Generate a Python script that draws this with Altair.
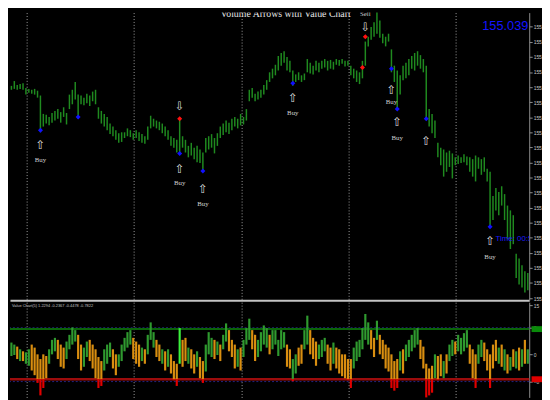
import altair as alt
import pandas as pd

# ---------------- data ----------------
price_high = [155.704, 155.720, 155.707, 155.710, 155.713, 155.697, 155.694, 155.691, 155.694, 155.688,
              155.672, 155.611, 155.608, 155.601, 155.614, 155.621, 155.627, 155.617, 155.633, 155.614,
              155.675, 155.691, 155.717, 155.675, 155.672, 155.665, 155.678, 155.672, 155.685, 155.691,
              155.633, 155.621, 155.611, 155.601, 155.579, 155.569, 155.557, 155.547, 155.550, 155.550,
              155.563, 155.557, 155.547, 155.557, 155.550, 155.544, 155.537, 155.569, 155.605, 155.595,
              155.589, 155.585, 155.579, 155.569, 155.557, 155.537, 155.531, 155.525, 155.601, 155.537,
              155.525, 155.505, 155.515, 155.499, 155.505, 155.493, 155.483, 155.531, 155.537, 155.544,
              155.531, 155.547, 155.569, 155.579, 155.589, 155.582, 155.595, 155.601, 155.595, 155.611,
              155.601, 155.627, 155.691, 155.697, 155.678, 155.685, 155.691, 155.707, 155.723, 155.749,
              155.761, 155.774, 155.803, 155.813, 155.819, 155.800, 155.787, 155.755, 155.742, 155.749,
              155.739, 155.745, 155.793, 155.781, 155.771, 155.787, 155.781, 155.787, 155.793, 155.787,
              155.790, 155.784, 155.793, 155.790, 155.793, 155.787, 155.787, 155.771, 155.761, 155.755,
              155.749, 155.787, 155.851, 155.867, 155.899, 155.915, 155.947, 155.921, 155.877, 155.867,
              155.877, 155.825, 155.771, 155.755, 155.739, 155.771, 155.781, 155.793, 155.803, 155.813,
              155.819, 155.806, 155.793, 155.771, 155.627, 155.611, 155.589, 155.515, 155.499, 155.493,
              155.483, 155.489, 155.480, 155.467, 155.473, 155.467, 155.477, 155.470, 155.467, 155.461,
              155.473, 155.467, 155.461, 155.467, 155.429, 155.419, 155.339, 155.365, 155.352, 155.371,
              155.345, 155.307, 155.291, 155.275, 155.147, 155.131, 155.109, 155.089, 155.083]
price_low = [155.691, 155.694, 155.691, 155.694, 155.691, 155.675, 155.681, 155.678, 155.675, 155.665,
             155.550, 155.569, 155.579, 155.573, 155.582, 155.589, 155.595, 155.582, 155.601, 155.576,
             155.627, 155.643, 155.659, 155.595, 155.643, 155.640, 155.646, 155.637, 155.653, 155.643,
             155.595, 155.579, 155.569, 155.557, 155.544, 155.537, 155.525, 155.515, 155.518, 155.531,
             155.537, 155.534, 155.525, 155.531, 155.521, 155.515, 155.512, 155.525, 155.563, 155.569,
             155.563, 155.557, 155.547, 155.537, 155.525, 155.505, 155.499, 155.483, 155.480, 155.499,
             155.483, 155.467, 155.473, 155.461, 155.451, 155.448, 155.425, 155.483, 155.493, 155.499,
             155.480, 155.505, 155.531, 155.541, 155.550, 155.544, 155.557, 155.569, 155.563, 155.573,
             155.576, 155.589, 155.653, 155.665, 155.653, 155.659, 155.665, 155.675, 155.691, 155.717,
             155.729, 155.739, 155.755, 155.771, 155.781, 155.755, 155.749, 155.704, 155.717, 155.723,
             155.717, 155.723, 155.749, 155.745, 155.742, 155.755, 155.749, 155.761, 155.765, 155.755,
             155.761, 155.758, 155.774, 155.771, 155.777, 155.768, 155.771, 155.739, 155.729, 155.717,
             155.710, 155.729, 155.771, 155.835, 155.857, 155.867, 155.877, 155.864, 155.845, 155.835,
             155.851, 155.749, 155.717, 155.627, 155.675, 155.723, 155.729, 155.739, 155.761, 155.755,
             155.771, 155.761, 155.749, 155.595, 155.569, 155.547, 155.531, 155.467, 155.441, 155.403,
             155.419, 155.435, 155.397, 155.441, 155.445, 155.448, 155.451, 155.441, 155.419, 155.403,
             155.387, 155.429, 155.409, 155.419, 155.387, 155.237, 155.259, 155.291, 155.275, 155.307,
             155.259, 155.195, 155.163, 155.179, 155.067, 155.045, 155.035, 155.019, 155.026]

vc_high = [3.6, 3.0, 2.4, 1.6, 1.0, 0.7, 1.6, 3.0, 2.1, 0.1,
           -1.3, 0.1, -0.4, 1.6, 4.4, 5.0, 4.4, 3.0, 2.1, 3.9,
           5.9, 8.1, 7.3, 5.9, 3.0, 2.1, 3.9, 4.4, 3.0, 1.6,
           -0.7, -1.9, 1.6, 3.0, 3.6, 1.6, 0.1, 0.1, 3.0, 5.0,
           6.7, 7.3, 5.0, 3.9, 3.0, 2.1, 1.6, 5.9, 9.6, 6.7,
           4.4, 3.0, 1.6, 1.0, 1.6, 0.1, -1.9, -2.7, 7.9, 4.4,
           5.0, 2.1, 1.6, 0.1, 1.0, -0.7, -1.9, 3.0, 6.7, 5.0,
           4.4, 3.9, 3.0, 5.9, 9.3, 7.3, 4.4, 3.0, 1.6, 2.1,
           4.4, 7.9, 10.7, 7.3, 5.9, 4.4, 6.7, 8.7, 7.9, 5.9,
           7.3, 7.3, 4.4, 7.3, 6.7, 3.0, 1.6, -1.3, 0.1, 2.1,
           3.0, 7.3, 11.6, 7.3, 5.0, 3.9, 3.0, 4.4, 5.0, 3.0,
           2.1, 3.6, 2.1, 1.6, 0.1, 0.1, -1.3, -1.3, 2.1, 3.9,
           4.4, 7.9, 12.1, 9.6, 7.3, 5.0, 10.1, 5.9, 4.4, 3.0,
           2.1, 0.1, -1.9, -1.3, 1.0, 1.6, 3.0, 4.4, 5.9, 7.3,
           7.9, 4.4, 2.4, -2.7, -4.1, -3.3, 0.1, -0.4, 0.1, -1.9,
           0.1, 3.0, 4.4, 3.9, 5.9, 5.0, 6.4, 7.3, 3.0, 1.6,
           0.1, 3.0, 4.4, 3.6, 1.6, 0.1, 3.0, 4.4, 2.1, 3.0,
           1.6, 0.1, -0.7, 1.6, 1.0, 2.1, 1.6, 4.4, 1.6]
vc_low = [-0.4, -0.1, -1.3, -1.9, -1.9, -2.7, -3.3, -4.7, -6.1, -8.4,
          -12.1, -9.9, -7.0, -2.7, 0.1, 1.0, -1.3, -3.6, -4.1, -1.3,
          1.6, 3.0, 3.9, -1.3, -4.7, -3.6, -0.7, -1.9, -4.1, -7.0,
          -9.9, -9.3, -4.7, -2.7, -0.7, -4.1, -6.1, -3.6, -1.9, 1.0,
          2.1, 3.0, -1.3, -2.7, -3.6, -1.9, -2.7, 0.1, 4.4, 2.1,
          -0.7, -1.9, -2.7, -4.7, -3.6, -5.6, -7.6, -9.3, -2.7, -3.6,
          -1.9, -2.7, -4.1, -5.6, -3.6, -7.0, -8.4, -5.0, 0.1, -0.7,
          -1.3, -0.1, -1.9, 1.6, 3.9, 1.0, -0.7, -4.1, -3.6, -4.7,
          -0.7, 3.0, 4.4, 1.6, -1.9, -0.7, 1.0, 3.0, 2.1, 0.1,
          1.6, 3.0, -0.4, 1.6, 2.1, -3.6, -4.1, -7.9, -5.6, -3.3,
          -2.7, 1.6, 3.0, 0.1, -1.3, -3.3, -1.3, -0.7, 1.0, -2.7,
          -4.7, -2.7, -4.1, -5.6, -6.4, -7.0, -7.6, -9.9, -4.1, -1.9,
          -0.7, 1.6, 4.4, 3.0, 1.6, -0.7, 4.4, 0.1, -1.3, -4.1,
          -5.0, -9.9, -10.7, -9.9, -4.7, -5.6, -1.9, -0.7, 1.0, 2.1,
          3.0, -1.3, -4.1, -12.7, -12.1, -11.3, -7.0, -7.6, -6.4, -7.0,
          -5.6, -1.9, -0.4, 0.1, 1.0, 0.1, 1.0, 2.1, -2.7, -7.0,
          -9.9, -2.7, -0.7, -1.9, -4.7, -9.9, -4.1, -1.9, -2.7, -3.6,
          -4.7, -5.6, -4.7, -3.6, -4.1, -4.7, -3.6, -2.7, -2.7]
vc_kind_rows = ["ggogoggooo", "ooogggooog", "gggooggooo", "oogggooggg",
                "ggooogoggg", "oogogooolo", "ogoogooggg", "ogoggooogo",
                "gggooggggo", "gggggooggo", "oggooogggo", "ogoooooogg",
                "ggggoogooo", "oooogogggg", "gooooogoog", "oggoggggoo",
                "oggooooogo", "gogogogog"]
vc_kind = list("".join(vc_kind_rows))

buy_bar = [10, 23, 58, 66, 97, 131, 133, 143, 165]
buy_price = [155.557, 155.601, 155.480, 155.422, 155.713, 155.761, 155.627, 155.595, 155.237]
buy_arrow_bar = [10, 58, 66, 97, 131, 133, 143, 165]
buy_arrow_price = [155.509, 155.429, 155.361, 155.665, 155.691, 155.585, 155.521, 155.189]
buy_label_bar = [10, 58, 66, 97, 131, 133, 165]
buy_label_price = [155.457, 155.381, 155.313, 155.614, 155.649, 155.531, 155.137]
sell_bar = [58, 121, 122]
sell_price = [155.595, 155.765, 155.867]
sell_arrow_bar = [58, 122]
sell_arrow_price = [155.637, 155.899]
sell_label_bar = [122]
sell_label_price = [155.941]

session_bars = [5.2, 42.2, 79.2, 116.2, 153.2]
price_ticks = [155.00, 155.05, 155.10, 155.15, 155.20, 155.25, 155.30, 155.35, 155.40, 155.45,
               155.50, 155.55, 155.60, 155.65, 155.70, 155.75, 155.80, 155.85, 155.90]
vc_ticks = [14.7, 8, 0, -8]
vc_dotted = [8, -8]
vc_upper = 7.6
vc_lower = -7.3
bid_text = "155.039"
time_text = "Time: 00:57:51"
title_text = "Volume Arrows with Value Chart"
vc_header = "Value Chart(5) 1.2294 -0.2367 -0.4478 -0.7822"

# ---------------- frames ----------------
n = len(price_high)
bars = pd.DataFrame({"bar": list(range(n)), "hi": price_high, "lo": price_low})
vc = pd.DataFrame({"bar": list(range(len(vc_high))), "hi": vc_high, "lo": vc_low,
                   "kind": vc_kind[:len(vc_high)]})
buy_df = pd.DataFrame({"bar": buy_bar, "p": buy_price})
sell_df = pd.DataFrame({"bar": sell_bar, "p": sell_price})
buy_arrow_df = pd.DataFrame({"bar": buy_arrow_bar, "p": buy_arrow_price})
buy_label_df = pd.DataFrame({"bar": buy_label_bar, "p": buy_label_price})
sell_arrow_df = pd.DataFrame({"bar": sell_arrow_bar, "p": sell_arrow_price})
sell_label_df = pd.DataFrame({"bar": sell_label_bar, "p": sell_label_price})
title_df = pd.DataFrame({"bar": [94.5], "p": [155.941], "t": [title_text]})
bid_df = pd.DataFrame({"bar": [178.2], "p": [155.902], "t": [bid_text]})
time_df = pd.DataFrame({"bar": [166.2], "p": [155.195], "t": [time_text]})

W = 529
xs = alt.Scale(domain=[-0.5, 178.5], nice=False, zero=False)
grid_common = dict(values=session_bars, grid=True, gridColor="#a0a0a0", gridDash=[1, 2],
                   gridWidth=1, labels=False, ticks=False, title=None)
x_top_axis = alt.Axis(domain=True, domainColor="#c4c4c4", domainWidth=2, **grid_common)
x_bot_axis = alt.Axis(domain=False, **grid_common)

ys_top = alt.Scale(domain=[154.993, 155.947], nice=False, zero=False)
y_top_axis = alt.Axis(orient="right", values=price_ticks, format=".3f", labelFontSize=5,
                      labelColor="#c8c8c8", labelFont="Liberation Sans", labelPadding=1,
                      tickSize=3, tickColor="#909090", domainColor="#909090", domainWidth=1,
                      grid=False, title=None, labelOverlap=False)
ys_bot = alt.Scale(domain=[-12.7, 15.6], nice=False, zero=False)
y_bot_axis = alt.Axis(orient="right", values=vc_ticks, labelFontSize=5,
                      labelColor="#c8c8c8", labelFont="Liberation Sans", labelPadding=1,
                      tickSize=3, tickColor="#909090", domainColor="#909090", domainWidth=1,
                      grid=False, title=None, labelOverlap=False)


def XT(f="bar"):
    return alt.X(f"{f}:Q", scale=xs, axis=x_top_axis)


def YT(f):
    return alt.Y(f"{f}:Q", scale=ys_top, axis=y_top_axis)


def XB(f="bar"):
    return alt.X(f"{f}:Q", scale=xs, axis=x_bot_axis)


def YB(f):
    return alt.Y(f"{f}:Q", scale=ys_bot, axis=y_bot_axis)


price_bars = alt.Chart(bars).mark_rule(color="#1f8a1f", strokeWidth=1.5).encode(
    x=XT(), y=YT("lo"), y2="hi")
buy_pts = alt.Chart(buy_df).mark_point(shape="diamond", filled=True, color="#1010ff",
                                       size=26, opacity=1).encode(x=XT(), y=YT("p"))
sell_pts = alt.Chart(sell_df).mark_point(shape="diamond", filled=True, color="#ff1010",
                                         size=26, opacity=1).encode(x=XT(), y=YT("p"))
up_arrows = alt.Chart(buy_arrow_df).mark_text(text="⇧", font="DejaVu Sans", fontSize=12,
                                              color="#d8d8d8").encode(x=XT(), y=YT("p"))
buy_labels = alt.Chart(buy_label_df).mark_text(text="Buy", font="Liberation Serif", fontSize=7,
                                               color="#d0d0d0").encode(x=XT(), y=YT("p"))
down_arrows = alt.Chart(sell_arrow_df).mark_text(text="⇩", font="DejaVu Sans", fontSize=12,
                                                 color="#d8d8d8").encode(x=XT(), y=YT("p"))
sell_labels = alt.Chart(sell_label_df).mark_text(text="Sell", font="Liberation Serif", fontSize=7,
                                                 color="#d0d0d0", clip=True).encode(x=XT(), y=YT("p"))
title_mark = alt.Chart(title_df).mark_text(font="Liberation Serif", fontSize=10, color="#e8e8e8",
                                           clip=True).encode(x=XT(), y=YT("p"), text="t:N")
bid_mark = alt.Chart(bid_df).mark_text(font="Liberation Sans", fontSize=13, color="#1414ff",
                                       align="right").encode(x=XT(), y=YT("p"), text="t:N")
time_mark = alt.Chart(time_df).mark_text(font="Liberation Sans", fontSize=8, color="#1a1aff",
                                         align="left", dx=2, clip=True).encode(
    x=XT(), y=YT("p"), text="t:N")

top = alt.layer(price_bars, buy_pts, sell_pts, up_arrows, buy_labels, down_arrows, sell_labels,
                title_mark, bid_mark, time_mark).properties(width=W, height=293)

# ---- value chart panel ----
dotted = alt.Chart(pd.DataFrame({"v": vc_dotted})).mark_rule(
    color="#25257f", strokeDash=[2, 2], strokeWidth=1).encode(y=YB("v"))
upper = alt.Chart(pd.DataFrame({"v": [vc_upper]})).mark_rule(
    color="#0a640a", strokeWidth=2).encode(y=YB("v"))
lower = alt.Chart(pd.DataFrame({"v": [vc_lower]})).mark_rule(
    color="#9c0c0c", strokeWidth=2.5).encode(y=YB("v"))
vc_bars = alt.Chart(vc).transform_calculate(
    base=f"max(datum.lo, {vc_lower})").mark_rule(strokeWidth=2.2).encode(
    x=XB(), y=YB("base"), y2="hi",
    color=alt.Color("kind:N", scale=alt.Scale(domain=["g", "o", "l"],
                                              range=["#2f9a2f", "#d98e10", "#3cf03c"]),
                    legend=None))
vc_red = alt.Chart(vc).transform_filter(f"datum.lo < {vc_lower}").transform_calculate(
    cap=f"min(datum.hi, {vc_lower})").mark_rule(strokeWidth=2.2, color="#e00000").encode(
    x=XB(), y=YB("lo"), y2="cap")
boxes = alt.Chart(pd.DataFrame({"x0": [179.3, 179.3], "x1": [184.0, 184.0],
                                "v": [vc_upper, vc_lower], "c": ["#0a8a0a", "#e00000"]})).mark_rule(
    strokeWidth=6, clip=False).encode(x=XB("x0"), x2="x1", y=YB("v"),
                                      color=alt.Color("c:N", scale=None))
header = alt.Chart(pd.DataFrame({"bar": [-0.5], "v": [14.4], "t": [vc_header]})).mark_text(
    font="Liberation Sans", fontSize=4, color="#c0c0c0", align="left", dx=2).encode(
    x=XB(), y=YB("v"), text="t:N")

bottom = alt.layer(dotted, upper, lower, vc_bars, vc_red, boxes, header).properties(
    width=W, height=97)

chart = alt.vconcat(top, bottom, spacing=1).resolve_scale(
    x="independent", y="independent").properties(
    padding={"left": 0, "top": 0, "right": -10, "bottom": 0}).configure(
    background="#000000").configure_view(stroke=None)

chart.save("out.html", embed_options={"renderer": "svg", "actions": False})
